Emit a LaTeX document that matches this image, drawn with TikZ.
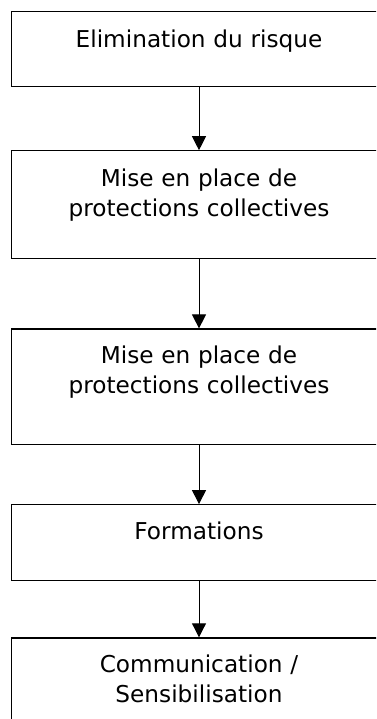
\documentclass[tikz,border=0pt]{standalone}
\usepackage{fontspec}
\setmainfont{DejaVu Sans}
\usetikzlibrary{positioning,arrows.meta}
\tikzset{
stepbox/.style={
draw,
line width=1.2pt,
minimum width=375pt,
text width=360pt,
align=center,
inner ysep=0pt,
text height=36pt,
font=\fontsize{23.2pt}{30pt}\selectfont
},
arrow/.style={
-{Triangle[length=14pt,width=14pt]},
line width=1pt
}
}
\begin{document}
\begin{tikzpicture}[x=1pt,y=-1pt]
\clip (0,0) rectangle (376,719);
\node[stepbox,anchor=north,text depth=39pt](elim) at (199,11){Elimination du risque};
\node[stepbox,below=63pt of elim,text depth=72pt](prot1){Mise en place de\\protections collectives};
\node[stepbox,below=69pt of prot1,text height=34.5pt,text depth=81pt](prot2){Mise en place de\\protections collectives};
\node[stepbox,below=59pt of prot2,text height=35pt,text depth=41pt](form){Formations};
\node[stepbox,below=56pt of form,text height=35pt,text depth=100pt](comm){Communication /\\Sensibilisation};

\draw[arrow](elim)--(prot1);
\draw[arrow](prot1)--(prot2);
\draw[arrow](prot2)--(form);
\draw[arrow](form)--(comm);
\end{tikzpicture}
\end{document}
